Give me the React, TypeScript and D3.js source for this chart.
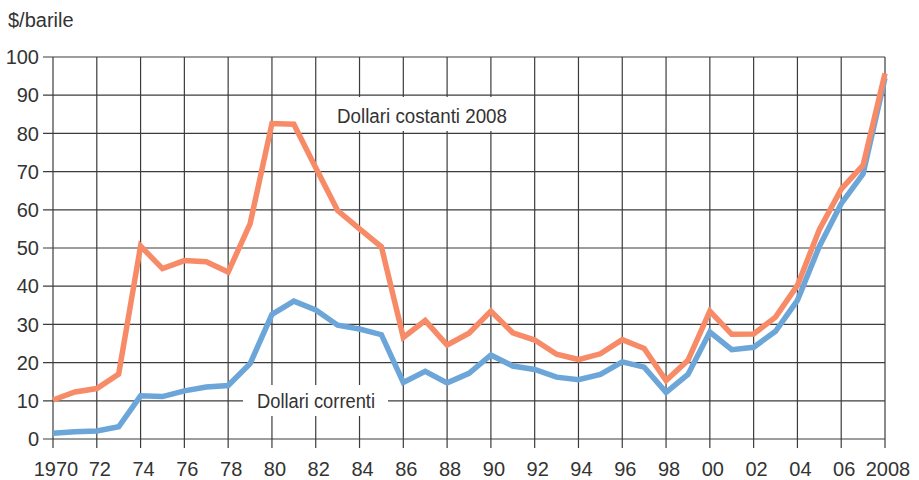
import React from 'react'
import * as d3 from 'd3'

// years shown on the x axis
const years = [
  1970, 1971, 1972, 1973, 1974, 1975, 1976, 1977, 1978, 1979,
  1980, 1981, 1982, 1983, 1984, 1985, 1986, 1987, 1988, 1989,
  1990, 1991, 1992, 1993, 1994, 1995, 1996, 1997, 1998, 1999,
  2000, 2001, 2002, 2003, 2004, 2005, 2006, 2007, 2008,
]

// $/barile, dollari costanti 2008
const costanti = [
  10.2, 12.3, 13.2, 17, 50.5, 44.6, 46.7, 46.4, 43.7, 56.3,
  82.6, 82.4, 71, 59.8, 55, 50.3, 26.6, 31, 24.6, 27.7,
  33.5, 27.8, 25.9, 22.2, 20.8, 22.3, 26, 23.7, 15.3, 20.6,
  33.5, 27.4, 27.5, 31.9, 40.2, 54.8, 65.4, 71.7, 95.7,
]

// $/barile, dollari correnti
const correnti = [
  1.5, 1.9, 2.1, 3.2, 11.3, 11.1, 12.6, 13.6, 14, 19.7,
  32.6, 36.1, 33.8, 29.8, 28.8, 27.3, 14.8, 17.7, 14.7, 17.2,
  22, 19.1, 18.2, 16.2, 15.5, 16.9, 20.2, 18.8, 12.2, 16.9,
  28, 23.4, 24, 28.2, 36.3, 50.4, 61.6, 69.4, 94.5,
]

const xTickYears = [1970, 1972, 1974, 1976, 1978, 1980, 1982, 1984, 1986, 1988, 1990, 1992, 1994, 1996, 1998, 2000, 2002, 2004, 2006, 2008]
const xTickLabels = ['1970', '72', '74', '76', '78', '80', '82', '84', '86', '88', '90', '92', '94', '96', '98', '00', '02', '04', '06', '2008']
const yTicks = [0, 10, 20, 30, 40, 50, 60, 70, 80, 90, 100]

const W = 919
const H = 480
const left = 53
const right = 885
const top = 57
const bottom = 439

const font = '"Liberation Sans", Arial, sans-serif'
const textColor = '#333'
const gridColor = '#3c3c3c'

export default function App() {
  const x = d3.scaleLinear().domain([1970, 2008]).range([left, right])
  const y = d3.scaleLinear().domain([0, 100]).range([bottom, top])

  const line = d3.line<number>()
    .x((_, i) => x(years[i]))
    .y(d => y(d))

  return (
    <svg width={W} height={H} style={{ position: 'absolute', left: 0, top: 0, background: '#fff' }}>
      <text x={8} y={27} fontFamily={font} fontSize={20} fill={textColor}>$/barile</text>

      {/* horizontal grid + y labels */}
      {yTicks.map(t => (
        <g key={'y' + t}>
          <line x1={left - 10} x2={right} y1={y(t)} y2={y(t)} stroke={gridColor} strokeWidth={1.2} />
          <text x={39} y={y(t)} dy="0.36em" textAnchor="end" fontFamily={font} fontSize={20} fill={textColor}>{t}</text>
        </g>
      ))}

      {/* vertical grid + x labels */}
      {xTickYears.map((yr, i) => (
        <g key={'x' + yr}>
          <line x1={x(yr)} x2={x(yr)} y1={top} y2={bottom + 9} stroke={gridColor} strokeWidth={1.2} />
          <text x={x(yr) + 3} y={476} textAnchor="middle" fontFamily={font} fontSize={20} fill={textColor}>{xTickLabels[i]}</text>
        </g>
      ))}

      {/* label boxes hide the grid behind the series names */}
      <rect x={330} y={97} width={193} height={34} fill="#fff" />
      <text x={422} y={123} textAnchor="middle" fontFamily={font} fontSize={20} fill={textColor}
        textLength={170} lengthAdjust="spacingAndGlyphs">Dollari costanti 2008</text>

      <rect x={243} y={385} width={145} height={31} fill="#fff" />
      <text x={316} y={408} textAnchor="middle" fontFamily={font} fontSize={20} fill={textColor}
        textLength={118} lengthAdjust="spacingAndGlyphs">Dollari correnti</text>

      <path d={line(correnti) || ''} fill="none" stroke="#6ca6d9" strokeWidth={5.5} />
      <path d={line(costanti) || ''} fill="none" stroke="#f78b68" strokeWidth={5.5} />
    </svg>
  )
}
